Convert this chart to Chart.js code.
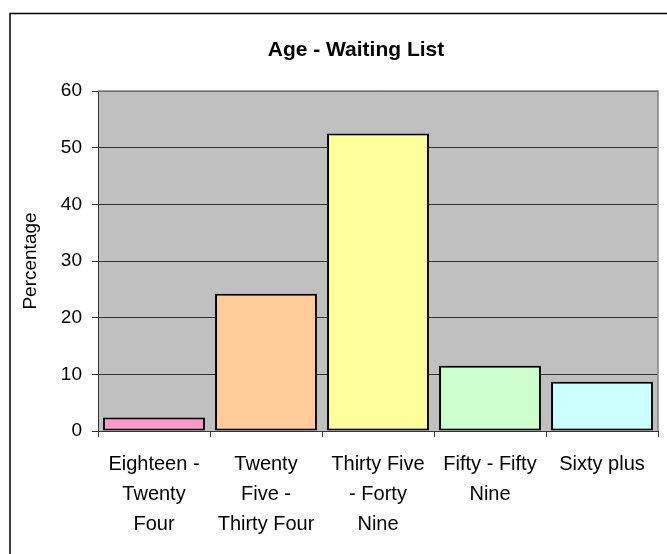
<!DOCTYPE html>
<html>
<head>
<meta charset="utf-8">
<title>Age - Waiting List</title>
<script src="https://cdn.jsdelivr.net/npm/chart.js@4.4.1/dist/chart.umd.min.js"></script>
<style>
  html, body { margin: 0; padding: 0; background: #fff; }
  #wrap { width: 667px; height: 554px; }
</style>
</head>
<body>
<div id="wrap"><canvas id="ageChart" width="667" height="554"></canvas></div>
<script>
// Chart data
const categories = [
    ['Eighteen -', 'Twenty', 'Four'],
    ['Twenty', 'Five -', 'Thirty Four'],
    ['Thirty Five', '- Forty', 'Nine'],
    ['Fifty - Fifty', 'Nine'],
    ['Sixty plus']
];
const percentages = [2.4, 24.2, 52.5, 11.5, 8.7];
const barColors = ['#FF99CC', '#FFCC99', '#FFFF99', '#CCFFCC', '#CCFFFF'];
const yTicks = [0, 10, 20, 30, 40, 50, 60];
const chartTitle = 'Age - Waiting List';
const yTitle = 'Percentage';

Chart.defaults.font.family = "'Liberation Sans', Arial, sans-serif";
Chart.defaults.color = '#000';

// Grey plot background, outer frame and the title text
const framePlugin = {
    id: 'frame',
    beforeDraw(chart) {
        const { ctx, chartArea: a } = chart;
        ctx.save();
        ctx.fillStyle = '#C0C0C0';
        ctx.fillRect(a.left, a.top, a.right - a.left, a.bottom - a.top);
        // outer border runs off the right and bottom of the picture
        ctx.strokeStyle = '#000';
        ctx.lineWidth = 1.5;
        ctx.strokeRect(10, 13.5, 1000, 1000);
        ctx.restore();
    },
    beforeDatasetsDraw(chart) {
        const { ctx, chartArea: a } = chart;
        ctx.save();
        ctx.strokeStyle = '#808080';
        ctx.lineWidth = 1.5;
        ctx.beginPath();
        ctx.moveTo(a.left, a.top);
        ctx.lineTo(a.right, a.top);
        ctx.lineTo(a.right, a.bottom);
        ctx.stroke();
        ctx.restore();
    },
    afterDraw(chart) {
        const ctx = chart.ctx;
        ctx.save();
        ctx.font = "bold 21px 'Liberation Sans', Arial, sans-serif";
        ctx.fillStyle = '#000';
        ctx.textAlign = 'center';
        ctx.textBaseline = 'middle';
        ctx.fillText(chartTitle, 356, 50);
        ctx.restore();
    }
};

const ctx = document.getElementById('ageChart');
window.ageChart = new Chart(ctx, {
    type: 'bar',
    data: {
        labels: categories,
        datasets: [{
            data: percentages,
            backgroundColor: barColors,
            borderColor: '#000',
            borderWidth: 2,
            borderSkipped: false,
            categoryPercentage: 0.91,
            barPercentage: 1
        }]
    },
    options: {
        responsive: false,
        animation: false,
        layout: { padding: { top: 91, right: 9, left: 0, bottom: 0 } },
        plugins: {
            legend: { display: false },
            title: { display: false },
            tooltip: { enabled: false }
        },
        scales: {
            x: {
                grid: { drawOnChartArea: false, drawTicks: true, tickLength: 6, color: '#333' },
                border: { color: '#333', width: 1 },
                ticks: {
                    maxRotation: 0,
                    autoSkip: false,
                    padding: 12,
                    font: { size: 20, lineHeight: 1.5 }
                },
                afterFit: (scale) => { scale.height = 123; }
            },
            y: {
                min: 0,
                max: 60,
                afterBuildTicks: (scale) => {
                    scale.ticks = yTicks.map(v => ({ value: v }));
                },
                grid: { color: '#333', tickLength: 6 },
                border: { color: '#333', width: 1 },
                ticks: { padding: 10, font: { size: 19 } },
                title: {
                    display: true,
                    text: yTitle,
                    font: { size: 19 },
                    padding: { top: 19, bottom: 0 }
                },
                afterFit: (scale) => { scale.width = 98; }
            }
        }
    },
    plugins: [framePlugin]
});
</script>
</body>
</html>
